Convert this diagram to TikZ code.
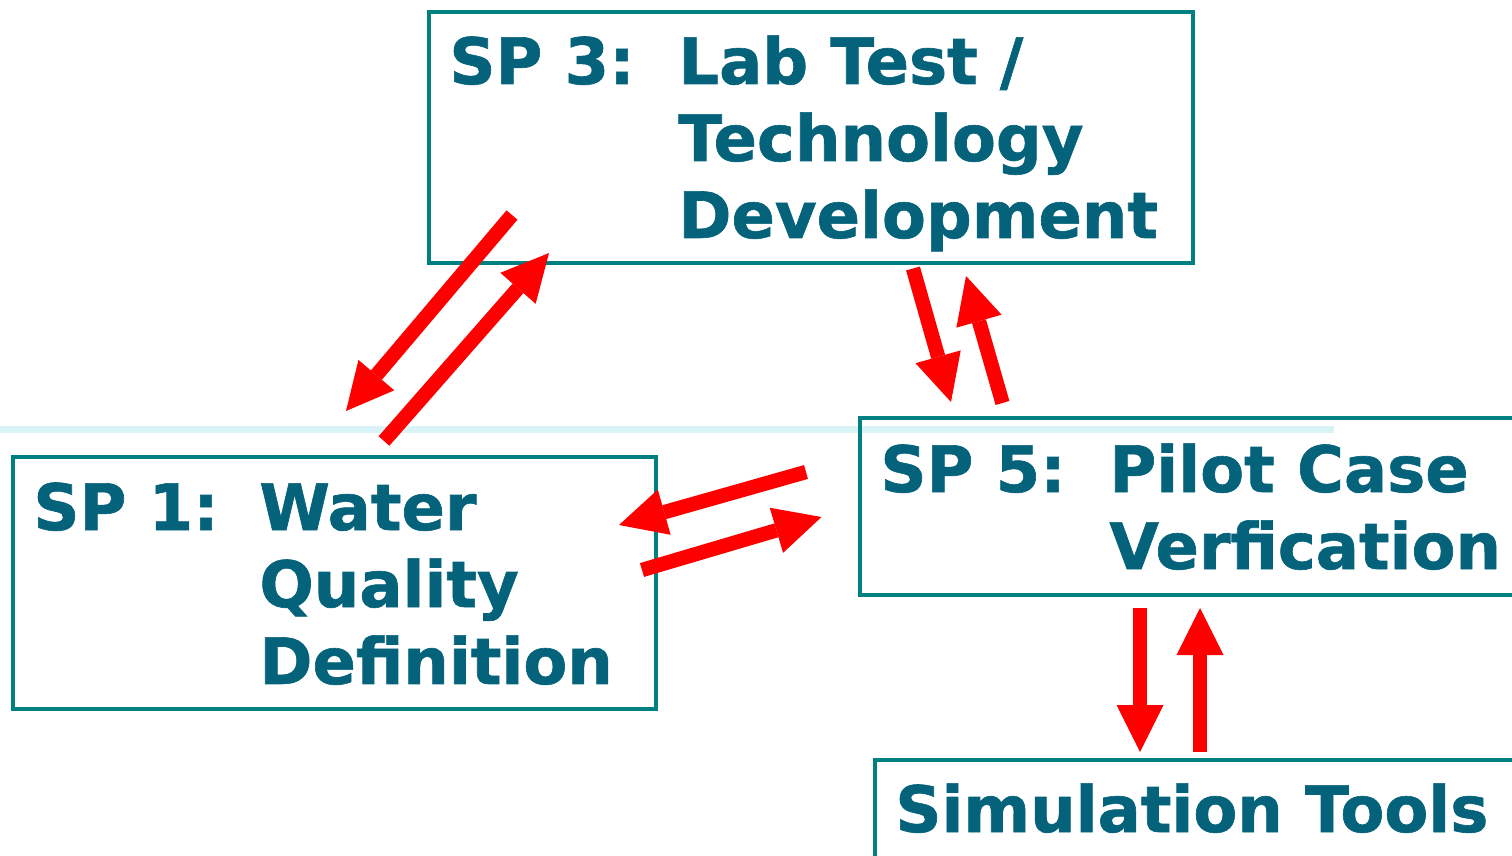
\documentclass[tikz,border=0pt]{standalone}
\usepackage{fontspec}
\setmainfont{DejaVu Sans}[BoldFeatures={FakeBold=1}]
\usetikzlibrary{arrows.meta}
\definecolor{txtcol}{RGB}{4,98,122}
\definecolor{boxcol}{RGB}{0,128,128}
\definecolor{lightcol}{RGB}{218,243,247}
\definecolor{arrred}{RGB}{255,0,0}
\tikzset{
  boxnode/.style={draw=boxcol, line width=2pt, inner sep=0pt, fill=none},
  lbl/.style={anchor=base west, inner sep=0pt, text=txtcol, font=\fontsize{32}{38.5}\selectfont\bfseries},
  redarrow/.style={draw=arrred, line width=7.2pt, -{Triangle[width=23.5pt,length=23.5pt,line width=0pt]}},
  lightline/.style={draw=lightcol, line width=3.5pt}
}
\begin{document}
\begin{tikzpicture}[x=0.5pt,y=-0.5pt]
\useasboundingbox (0,0) rectangle (1512,856);
% light horizontal line
\coordinate (ll1) at (0,429.5);
\coordinate (ll2) at (1334,429.5);
\draw[lightline] (ll1) -- (ll2);
% boxes
\node[boxnode, minimum width=382pt, minimum height=125.5pt] (sp3) at (811,137.5) {};
\node[boxnode, minimum width=321.5pt, minimum height=126pt] (sp1) at (334.5,583) {};
\node[boxnode, minimum width=335pt, minimum height=88.5pt] (sp5) at (1195,506.5) {};
\node[boxnode, minimum width=332.5pt, minimum height=60pt] (sim) at (1207.5,820) {};
% labels
\node[lbl] (sp3t) at (449,84) {\begin{tabular}[t]{@{}l@{}l@{}}\makebox[114.5pt][l]{SP 3:} & Lab Test /\\ & Technology\\ & Development\end{tabular}};
\node[lbl] (sp1t) at (33,530) {\begin{tabular}[t]{@{}l@{}l@{}}\makebox[113pt][l]{SP 1:} & Water\\ & Quality\\ & Definition\end{tabular}};
\node[lbl] (sp5t) at (880,492) {\begin{tabular}[t]{@{}l@{}l@{}}\makebox[114.5pt][l]{SP 5:} & Pilot Case\\ & Verfication\end{tabular}};
\node[lbl] (simt) at (895,832) {Simulation Tools};
% arrow end points
\coordinate (a1s) at (512,215);   \coordinate (a1e) at (346,411);
\coordinate (a2s) at (384,441);   \coordinate (a2e) at (549,253);
\coordinate (a3s) at (913,268.5); \coordinate (a3e) at (951,402);
\coordinate (a4s) at (1002.5,403);\coordinate (a4e) at (966,276);
\coordinate (a5s) at (806,472);   \coordinate (a5e) at (619,525);
\coordinate (a6s) at (642,570);   \coordinate (a6e) at (821.5,517);
\coordinate (a7s) at (1140,608);  \coordinate (a7e) at (1140,752);
\coordinate (a8s) at (1200,752);  \coordinate (a8e) at (1200,608);
\draw[redarrow] (a1s) -- (a1e);
\draw[redarrow] (a2s) -- (a2e);
\draw[redarrow] (a3s) -- (a3e);
\draw[redarrow] (a4s) -- (a4e);
\draw[redarrow] (a5s) -- (a5e);
\draw[redarrow] (a6s) -- (a6e);
\draw[redarrow] (a7s) -- (a7e);
\draw[redarrow] (a8s) -- (a8e);
\end{tikzpicture}
\end{document}
